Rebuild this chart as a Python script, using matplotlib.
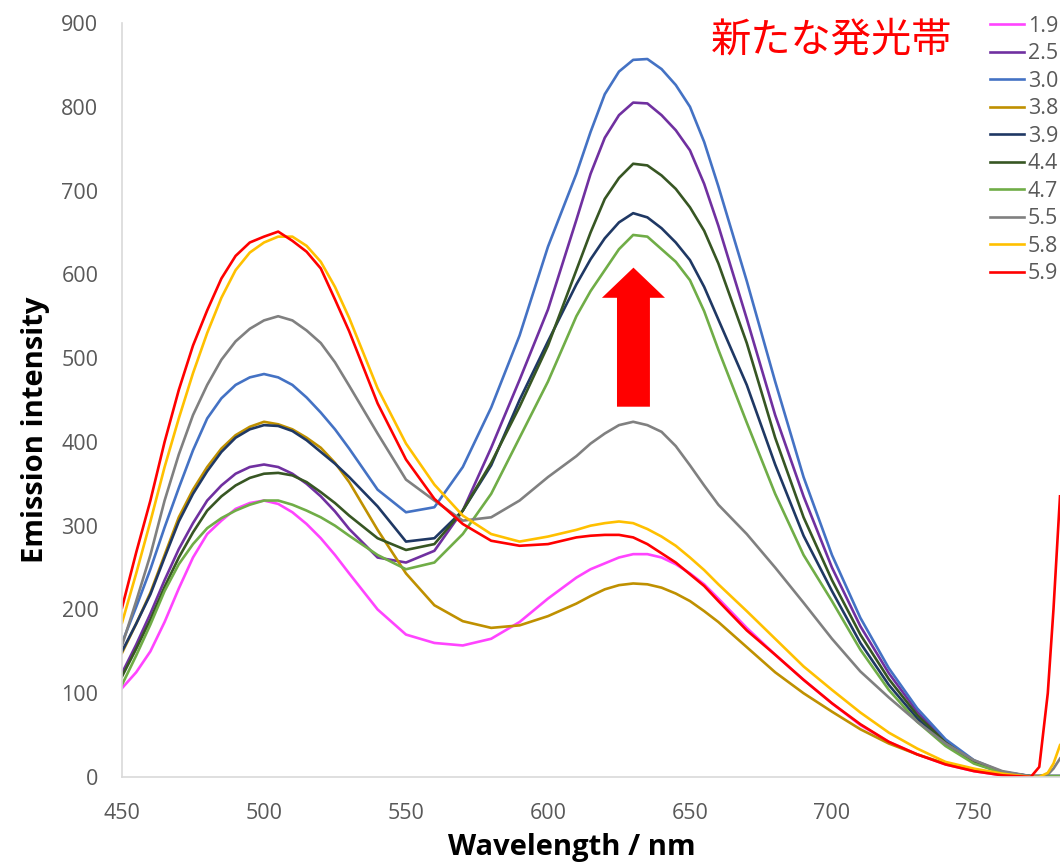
import matplotlib.pyplot as plt
from matplotlib.patches import FancyArrow
import numpy as np

# wavelength grid (nm): 5 nm steps around the peaks, 10 nm elsewhere
wl = [450, 455, 460, 465, 470, 475, 480, 485, 490, 495, 500, 505, 510, 515,
      520, 525, 530,
      540, 550, 560, 570, 580, 590, 600,
      610, 615, 620, 625, 630, 635, 640, 645, 650, 655, 660,
      670, 680, 690, 700, 710, 720, 730, 740, 750, 760, 770]

s19 = [106, 125, 150, 185, 225, 262, 290, 306, 320, 327, 330, 326, 316, 302,
       285, 265, 243,
       200, 170, 160, 157, 165, 185, 213,
       238, 248, 255, 262, 266, 266, 262, 254, 243, 230, 213,
       178, 146, 116, 88, 62, 42, 27, 15, 7, 2, 0]
s25 = [124, 158, 195, 235, 272, 303, 330, 348, 362, 370, 373, 370, 362, 350,
       335, 317, 296,
       262, 256, 270, 318, 393, 474, 558,
       665, 720, 763, 790, 805, 804, 790, 772, 748, 708, 658,
       547, 432, 335, 250, 180, 124, 78, 43, 19, 6, 1]
s30 = [160, 203, 248, 298, 345, 390, 428, 452, 468, 477, 481, 477, 468, 453,
       435, 415, 392,
       343, 316, 322, 370, 441, 527, 633,
       720, 770, 815, 842, 856, 857, 845, 826, 800, 758, 705,
       592, 472, 358, 265, 190, 130, 82, 45, 20, 6, 1]
s38 = [148, 183, 220, 265, 310, 343, 370, 392, 408, 418, 424, 421, 415, 405,
       393, 375, 352,
       295, 243, 205, 186, 178, 181, 192,
       207, 216, 224, 229, 231, 230, 226, 219, 210, 198, 185,
       155, 125, 100, 78, 57, 40, 27, 16, 8, 3, 0]
s39 = [150, 183, 218, 262, 305, 338, 365, 388, 405, 415, 420, 419, 413, 402,
       388, 374, 358,
       323, 281, 285, 318, 372, 450, 520,
       588, 618, 643, 662, 673, 668, 655, 638, 617, 585, 546,
       468, 373, 288, 222, 160, 110, 70, 39, 17, 5, 1]
s44 = [120, 153, 188, 227, 262, 292, 318, 335, 348, 357, 362, 363, 360, 352,
       340, 327, 312,
       285, 271, 278, 318, 375, 442, 515,
       605, 650, 690, 715, 732, 730, 718, 702, 680, 652, 613,
       518, 405, 310, 235, 170, 117, 74, 41, 18, 5, 1]
s47 = [110, 145, 182, 222, 254, 278, 297, 309, 318, 325, 330, 330, 325, 318,
       310, 300, 288,
       265, 248, 256, 290, 338, 405, 472,
       550, 580, 605, 630, 647, 645, 630, 615, 593, 556, 510,
       423, 338, 265, 210, 152, 104, 66, 37, 16, 5, 1]
s55 = [157, 210, 265, 330, 385, 432, 468, 498, 520, 535, 545, 550, 545, 533,
       518, 495, 467,
       410, 355, 330, 306, 310, 330, 358,
       383, 398, 410, 420, 424, 420, 412, 395, 372, 348, 325,
       290, 250, 208, 165, 126, 95, 66, 40, 20, 7, 1]
s58 = [184, 243, 305, 370, 428, 482, 530, 572, 605, 626, 638, 645, 645, 634,
       615, 585, 548,
       464, 398, 349, 312, 290, 281, 287,
       295, 300, 303, 305, 303, 296, 287, 276, 262, 247, 230,
       198, 165, 132, 104, 77, 53, 34, 18, 10, 4, 0]
s59 = [202, 268, 330, 400, 462, 515, 557, 595, 622, 638, 645, 651, 640, 627,
       607, 570, 532,
       446, 379, 332, 302, 282, 276, 278,
       286, 288, 289, 289, 286, 278, 267, 256, 242, 228, 210,
       175, 146, 116, 88, 63, 42, 27, 15, 7, 2, 0]

# the far right edge: scatter rise past 770 nm
tail_wl = [770, 773, 776, 778, 780.3]
tail_59 = [0, 12, 100, 200, 335]
tail_58 = [0, 0, 5, 16, 38]
tail_55 = [1, 1, 3, 10, 22]

labels = ['1.9', '2.5', '3.0', '3.8', '3.9', '4.4', '4.7', '5.5', '5.8', '5.9']
colors = ['#ff44ff', '#7030a0', '#4472c4', '#bf9000', '#1f3864',
          '#375623', '#70ad47', '#808080', '#ffc000', '#ff0000']
series = [s19, s25, s30, s38, s39, s44, s47, s55, s58, s59]

fig = plt.figure(figsize=(10.6, 8.66), dpi=100)
ax = fig.add_axes([122/1060, 89/866, 938/1060, 754/866])

for lab, col, s in zip(labels, colors, series):
    x = list(wl)
    y = list(s)
    if lab == '5.9':
        x += tail_wl[1:]; y += tail_59[1:]
    elif lab == '5.8':
        x += tail_wl[1:]; y += tail_58[1:]
    elif lab == '5.5':
        x += tail_wl[1:]; y += tail_55[1:]
    else:
        x += [780.3]; y += [y[-1]]
    ax.plot(x, y, color=col, lw=1.9, label=lab, solid_joinstyle='round')

ax.set_xlim(450, 780.3)
ax.set_ylim(0, 900)
ax.set_xticks(np.arange(450, 751, 50))
ax.set_yticks(np.arange(0, 901, 100))
for sp in ['top', 'right']:
    ax.spines[sp].set_visible(False)
for sp in ['left', 'bottom']:
    ax.spines[sp].set_color('#d9d9d9')
    ax.spines[sp].set_linewidth(1.2)
ax.tick_params(axis='both', length=0, labelsize=15.5, labelcolor='#595959')
ax.tick_params(axis='y', pad=17)
ax.tick_params(axis='x', pad=19)
for t in ax.get_xticklabels() + ax.get_yticklabels():
    t.set_family('Open Sans')

# red arrow
arr = FancyArrow(630.1, 442, 0, 166, width=11.6, head_width=22.2,
                 head_length=36, length_includes_head=True,
                 color='#ff0000', lw=0)
ax.add_patch(arr)

fig.text(36/1060, 1 - 430/866, 'Emission intensity', rotation=90,
         ha='center', va='center', fontsize=21, fontweight='bold',
         family='Open Sans')
fig.text(572/1060, 1 - 848/866, 'Wavelength / nm', ha='center',
         va='center', fontsize=21, fontweight='bold', family='Open Sans')
fig.text(832/1060, 1 - 40/866, '新たな発光帯', ha='center', va='center',
         fontsize=29, color='#ff0000',
         family=['Noto Sans CJK JP', 'DejaVu Sans'])

leg = fig.legend(loc='upper left', bbox_to_anchor=(990/1060, 1 - 16/866),
                 frameon=False, borderpad=0, borderaxespad=0,
                 handlelength=1.6, handletextpad=0.15, labelspacing=0.3,
                 prop={'family': 'Open Sans', 'size': 15.5})
for t in leg.get_texts():
    t.set_color('#595959')

fig.savefig('out.png', dpi=100)
